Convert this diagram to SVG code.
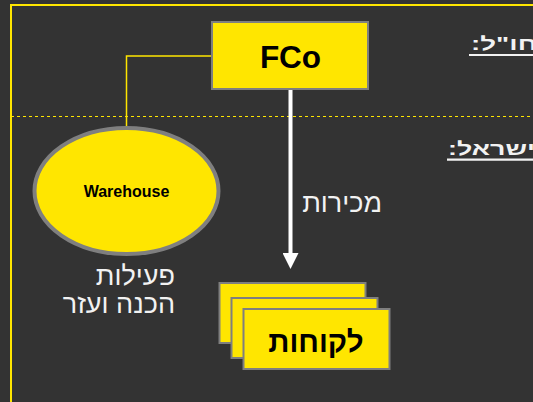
<svg xmlns="http://www.w3.org/2000/svg" width="533" height="402" viewBox="0 0 533 402">
<defs>
<style>
.node{fill:#FFE600;stroke:#7F7F7F;stroke-width:2}
.lbl{font-family:"Liberation Sans","DejaVu Sans",sans-serif;fill:#000;font-weight:bold;text-anchor:middle}
.wt{font-family:"Liberation Sans","DejaVu Sans",sans-serif;fill:#F2F2F2;font-size:27px}
.hd{font-family:"Liberation Sans","DejaVu Sans",sans-serif;fill:#F2F2F2;font-size:18.5px;font-weight:bold}
.ul{stroke:#F2F2F2;stroke-width:2.2}
</style>
<marker id="ah" markerUnits="userSpaceOnUse" markerWidth="16" markerHeight="16" refX="2" refY="8" orient="auto" viewBox="0 0 16 16">
<path d="M0,0 L16,8 L0,16 Z" fill="#FFFFFF"/>
</marker>
</defs>
<rect width="533" height="402" fill="#333333"/>
<rect x="11" y="5" width="600" height="500" fill="none" stroke="#FFE600" stroke-width="2"/>
<line x1="11" y1="116.5" x2="533" y2="116.5" stroke="#FFE600" stroke-width="1" stroke-dasharray="3,3"/>
<text class="hd" transform="translate(471,50) scale(1.5,1)" direction="rtl" text-anchor="end">חו"ל:</text>
<line class="ul" x1="469" y1="55" x2="533" y2="55"/>
<text class="hd" transform="translate(448,155) scale(1.45,1)" direction="rtl" text-anchor="end">ישראל:</text>
<line class="ul" x1="447" y1="159.7" x2="533" y2="159.7"/>
<g id="connectors">
<polyline points="212,56 126.5,56 126.5,128" fill="none" stroke="#FFE600" stroke-width="1.5"/>
<line x1="290.5" y1="89" x2="290.5" y2="255" stroke="#FFFFFF" stroke-width="4" marker-end="url(#ah)"/>
<text class="wt" x="382" y="211.5" direction="rtl" text-anchor="start">מכירות</text>
</g>
<g id="fco">
<rect class="node" x="212" y="22" width="156" height="67"/>
<text class="lbl" x="290.5" y="68" font-size="31.5">FCo</text>
</g>
<g id="warehouse">
<ellipse cx="126.5" cy="191" rx="92" ry="63" fill="#FFE600" stroke="#7F7F7F" stroke-width="4"/>
<text class="lbl" x="126.5" y="197" font-size="16">Warehouse</text>
<text class="wt" x="175" y="285" direction="rtl" text-anchor="start">פעילות</text>
<text class="wt" x="175" y="313" direction="rtl" text-anchor="start">הכנה ועזר</text>
</g>
<g id="customers">
<rect class="node" x="219.5" y="283" width="146" height="60"/>
<rect class="node" x="231.5" y="298" width="146" height="60"/>
<rect class="node" x="243.5" y="309" width="146" height="60"/>
<text class="lbl" x="316" y="352" font-size="29.5" direction="rtl">לקוחות</text>
</g>
</svg>
